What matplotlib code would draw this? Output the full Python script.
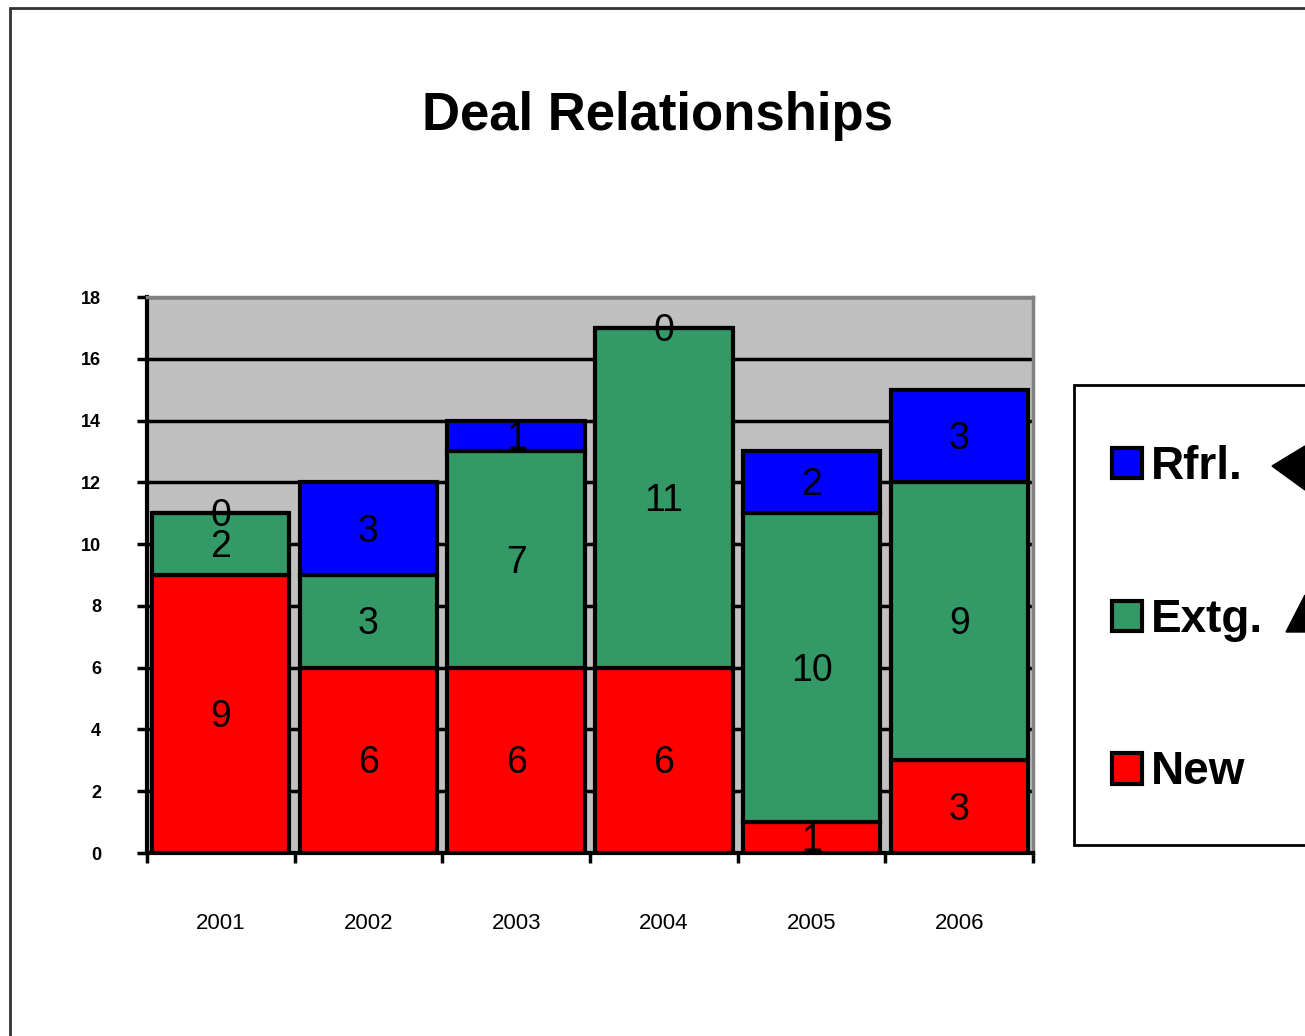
import matplotlib
matplotlib.use("Agg")
import matplotlib.pyplot as plt
from matplotlib.patches import Rectangle, Polygon
import numpy as np

plt.rcParams['font.family'] = ['Liberation Sans', 'DejaVu Sans']

years = ['2001', '2002', '2003', '2004', '2005', '2006']
new = [9, 6, 6, 6, 1, 3]
extg = [2, 3, 7, 11, 10, 9]
rfrl = [0, 3, 1, 0, 2, 3]

colors = {'New': '#ff0000', 'Extg.': '#339966', 'Rfrl.': '#0000ff'}

fig = plt.figure(figsize=(13.05, 10.36), dpi=100)
ax = fig.add_axes([0.1126, 0.1766, 0.679, 0.5367])
ax.set_facecolor('#c0c0c0')

x = np.arange(len(years))
bottom = np.zeros(len(years))
for name, vals in [('New', new), ('Extg.', extg), ('Rfrl.', rfrl)]:
    vals = np.array(vals)
    ax.bar(x, vals, width=0.93, bottom=bottom, color=colors[name],
           edgecolor='black', linewidth=3, label=name, zorder=3)
    # value labels centred in each segment
    for xi, b, v in zip(x, bottom, vals):
        ax.text(xi, b + v / 2 - 0.1, str(v), ha='center', va='center',
                fontsize=27, color='black', zorder=4)
    bottom += vals

ax.set_xlim(-0.5, len(years) - 0.5)
ax.set_ylim(0, 18)
ax.set_yticks(range(0, 19, 2))
ax.set_yticklabels([str(v) for v in range(0, 19, 2)], fontsize=13,
                   fontweight='bold')
ax.yaxis.grid(True, color='black', linewidth=2.5, zorder=0)
ax.set_axisbelow(True)

# category labels centred, ticks between categories
ax.set_xticks(x)
ax.set_xticklabels(years, fontsize=16)
ax.tick_params(axis='x', length=0, pad=43)
ax.set_xticks(np.arange(-0.5, len(years)), minor=True)
ax.tick_params(axis='x', which='minor', length=7, width=2.5, direction='out')
ax.tick_params(axis='y', length=7, width=2.5, direction='out', pad=26)

for s in ['left', 'bottom']:
    ax.spines[s].set_linewidth(3)
    ax.spines[s].set_color('black')
for s in ['top', 'right']:
    ax.spines[s].set_linewidth(2.5)
    ax.spines[s].set_color('#808080')

fig.text(0.504, 0.888, 'Deal Relationships', ha='center', va='center',
         fontsize=38, fontweight='bold')

# legend box extending off the right edge
fig.patches.append(Rectangle((1074 / 1305, 1 - 845 / 1036), 0.3, 460 / 1036,
                             transform=fig.transFigure, facecolor='white',
                             edgecolor='black', linewidth=2, zorder=1))
handles, labels = ax.get_legend_handles_labels()
leg = fig.legend(handles[::-1], labels[::-1], loc='upper left',
                 bbox_to_anchor=(1071 / 1305, 1 - 404 / 1036),
                 frameon=False, handlelength=0.64,
                 handleheight=0.64, handletextpad=0.2, labelspacing=2.37,
                 prop={'weight': 'bold', 'size': 33})
leg.set_zorder(2)

# arrow heads poking in from the right
fig.patches.append(Polygon([(1272 / 1305, 1 - 466 / 1036),
                            (1305 / 1305, 1 - 446 / 1036),
                            (1305 / 1305, 1 - 490 / 1036)],
                           closed=True, transform=fig.transFigure,
                           facecolor='black', edgecolor='black', zorder=3))
fig.patches.append(Polygon([(1286 / 1305, 1 - 632 / 1036),
                            (1305 / 1305, 1 - 595 / 1036),
                            (1305 / 1305, 1 - 632 / 1036)],
                           closed=True, transform=fig.transFigure,
                           facecolor='black', edgecolor='black', zorder=3))

# outer frame
fig.patches.append(Rectangle((10 / 1305, -0.01), 1.0, 1 - 8 / 1036 + 0.01,
                             transform=fig.transFigure, facecolor='none',
                             edgecolor='#333333', linewidth=2, zorder=0))

fig.savefig('out.png', dpi=100)
